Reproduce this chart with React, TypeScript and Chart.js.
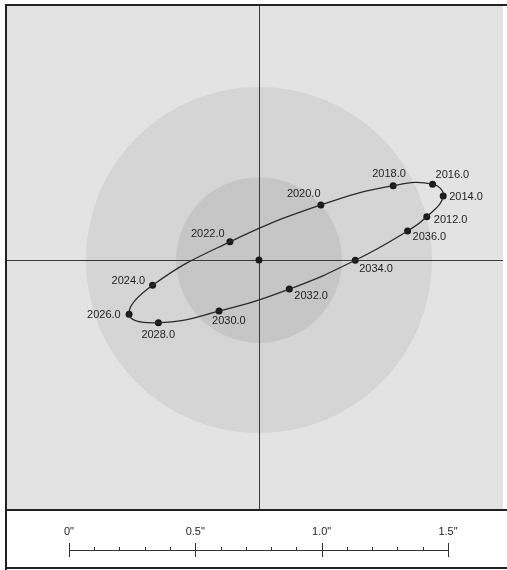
import React, { useEffect, useRef } from "react";
import { Chart, registerables } from "chart.js";

Chart.register(...registerables);

// Epochs of the companion along the orbit
const EPOCHS = ["2012.0", "2014.0", "2016.0", "2018.0", "2020.0", "2022.0", "2024.0", "2026.0", "2028.0", "2030.0", "2032.0", "2034.0", "2036.0"];
// Offsets of the companion relative to the primary, in arcseconds
const OFFSET_X = [0.664, 0.729, 0.687, 0.531, 0.245, -0.115, -0.421, -0.514, -0.398, -0.158, 0.12, 0.381, 0.588];
const OFFSET_Y = [0.171, 0.253, 0.3, 0.294, 0.218, 0.072, -0.1, -0.215, -0.248, -0.202, -0.115, -0.001, 0.115];
// Primary star position
const PRIMARY_X = [0];
const PRIMARY_Y = [0];
// Shaded zones around the primary (radius, arcsec)
const ZONE_RADII = [0.685, 0.328];
// Scale bar
const SCALE_ORIGIN = -0.752; // arcsec where the 0" tick sits
const SCALE_MAJOR = [0, 0.5, 1.0, 1.5];
const SCALE_LABELS = ['0"', '0.5"', '1.0"', '1.5"'];
const SCALE_MINOR_COUNT = 15; // 0.1" steps
// Visible field (arcsec)
const X_RANGE = [-0.997, 0.9656];
const Y_RANGE = [-0.985, 1.005];

// Label placement (px offsets of text left/middle from the point) — styling only
const LABEL_SHIFT: [number, number][] = [
  [7, 3], [6, 1], [3, -9], [-21, -12], [-34, -11], [-39, -8], [-41, -4],
  [-42, 1], [-17, 12], [-7, 10], [5, 7], [4, 9], [5, 6],
];

const BG = "#e3e3e3";
const ZONE_COLORS = ["#d5d5d5", "#c6c6c6"];
const INK = "#1e1e1e";
const FONT = "11px 'Liberation Sans', Arial, sans-serif";

export default function App() {
  const ref = useRef<HTMLCanvasElement | null>(null);

  useEffect(() => {
    document.body.style.margin = "0";
    const canvas = ref.current;
    if (!canvas) return;

    const pts = EPOCHS.map((_, i) => ({ x: OFFSET_X[i], y: OFFSET_Y[i] }));
    const n = pts.length;
    const loop = [pts[n - 1], ...pts, pts[0], pts[1]];

    const decor = {
      id: "decor",
      beforeDatasetsDraw(chart: any) {
        const { ctx, chartArea: a, scales } = chart;
        const xs = scales.x, ys = scales.y;
        ctx.save();
        ctx.fillStyle = "#ffffff";
        ctx.fillRect(0, 0, chart.width, chart.height);
        ctx.fillStyle = BG;
        ctx.fillRect(a.left, a.top, a.right - a.left, a.bottom - a.top);
        const cx = xs.getPixelForValue(PRIMARY_X[0]);
        const cy = ys.getPixelForValue(PRIMARY_Y[0]);
        ZONE_RADII.forEach((r, i) => {
          const rp = xs.getPixelForValue(PRIMARY_X[0] + r) - cx;
          ctx.beginPath();
          ctx.arc(cx, cy, rp, 0, Math.PI * 2);
          ctx.fillStyle = ZONE_COLORS[i];
          ctx.fill();
        });
        ctx.strokeStyle = "#3a3a3a";
        ctx.lineWidth = 1;
        const vx = Math.round(cx) + 0.5;
        const hy = Math.round(cy) + 0.5;
        ctx.beginPath();
        ctx.moveTo(vx, a.top);
        ctx.lineTo(vx, a.bottom);
        ctx.moveTo(a.left, hy);
        ctx.lineTo(a.right, hy);
        ctx.stroke();
        ctx.restore();
      },
      afterDraw(chart: any) {
        const { ctx, scales } = chart;
        const xs = scales.x;
        ctx.save();
        // epoch labels
        const meta = chart.getDatasetMeta(1);
        ctx.font = FONT;
        ctx.fillStyle = INK;
        ctx.textAlign = "left";
        ctx.textBaseline = "middle";
        meta.data.forEach((el: any, i: number) => {
          const [dx, dy] = LABEL_SHIFT[i];
          ctx.fillText(EPOCHS[i], el.x + dx, el.y + dy);
        });
        // frame
        ctx.strokeStyle = "#222";
        ctx.lineWidth = 2;
        ctx.beginPath();
        ctx.moveTo(6, 4);
        ctx.lineTo(6, 570);
        ctx.moveTo(5, 5);
        ctx.lineTo(507, 5);
        ctx.moveTo(5, 510);
        ctx.lineTo(507, 510);
        ctx.moveTo(5, 568);
        ctx.lineTo(507, 568);
        ctx.stroke();
        // scale bar
        const base = 550.5;
        ctx.strokeStyle = "#333";
        ctx.lineWidth = 1;
        ctx.beginPath();
        const x0 = Math.round(xs.getPixelForValue(SCALE_ORIGIN)) + 0.5;
        const x1 = Math.round(xs.getPixelForValue(SCALE_ORIGIN + SCALE_MAJOR[SCALE_MAJOR.length - 1])) + 0.5;
        ctx.moveTo(x0, base);
        ctx.lineTo(x1, base);
        for (let i = 0; i <= SCALE_MINOR_COUNT; i++) {
          const px = Math.round(xs.getPixelForValue(SCALE_ORIGIN + i * 0.1)) + 0.5;
          if (i % 5 === 0) {
            ctx.moveTo(px, 543);
            ctx.lineTo(px, 557);
          } else {
            ctx.moveTo(px, 547);
            ctx.lineTo(px, base);
          }
        }
        ctx.stroke();
        ctx.fillStyle = INK;
        ctx.textAlign = "center";
        ctx.textBaseline = "middle";
        SCALE_MAJOR.forEach((v, i) => {
          const px = xs.getPixelForValue(SCALE_ORIGIN + v);
          ctx.fillText(SCALE_LABELS[i], px, 532);
        });
        ctx.restore();
      },
    };

    const chart = new Chart(canvas, {
      type: "scatter",
      data: {
        datasets: [
          {
            data: loop,
            showLine: true,
            borderColor: "#2a2a2a",
            borderWidth: 1.3,
            tension: 0.45,
            pointRadius: 0,
            segment: {
              borderColor: (c: any) =>
                c.p0DataIndex === 0 || c.p0DataIndex === loop.length - 2 ? "rgba(0,0,0,0)" : "#2a2a2a",
            },
          } as any,
          {
            data: pts,
            showLine: false,
            pointRadius: 3.5,
            pointBackgroundColor: "#1a1a1a",
            pointBorderWidth: 0,
            borderColor: "#1a1a1a",
          },
          {
            data: PRIMARY_X.map((x, i) => ({ x, y: PRIMARY_Y[i] })),
            showLine: false,
            pointRadius: 3.5,
            pointBackgroundColor: "#1a1a1a",
            pointBorderWidth: 0,
            borderColor: "#1a1a1a",
          },
        ],
      },
      options: {
        animation: false,
        responsive: false,
        devicePixelRatio: 1,
        layout: { padding: { left: 7, right: 4, top: 6, bottom: 61 } },
        plugins: { legend: { display: false }, tooltip: { enabled: false }, title: { display: false } },
        events: [],
        scales: {
          x: { type: "linear", display: false, min: X_RANGE[0], max: X_RANGE[1] },
          y: { type: "linear", display: false, min: Y_RANGE[0], max: Y_RANGE[1] },
        },
      },
      plugins: [decor],
    });
    return () => chart.destroy();
  }, []);

  return <canvas ref={ref} width={507} height={570} style={{ display: "block" }} />;
}
